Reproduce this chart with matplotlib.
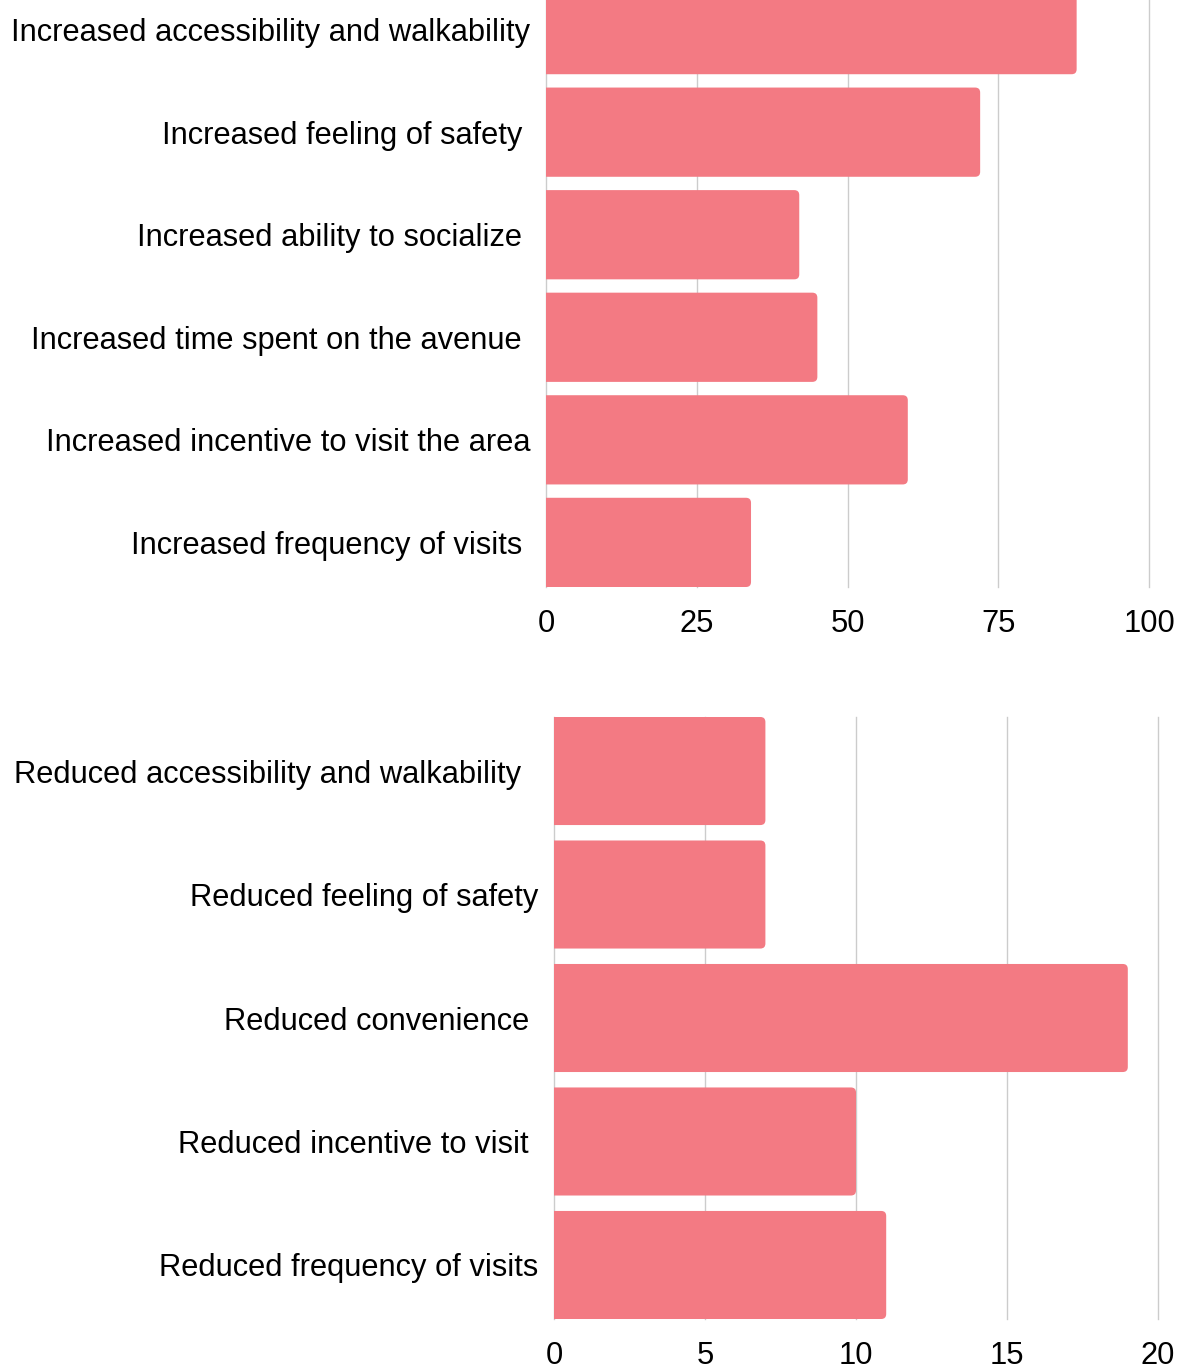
import matplotlib.pyplot as plt
from matplotlib.patches import FancyBboxPatch

plt.rcParams['font.family'] = ['Liberation Sans', 'DejaVu Sans']

# top chart: positive effects (listed top to bottom)
pos_labels = [
    "Increased accessibility and walkability",
    "Increased feeling of safety",
    "Increased ability to socialize",
    "Increased time spent on the avenue",
    "Increased incentive to visit the area",
    "Increased frequency of visits",
]
pos_values = [88, 72, 42, 45, 60, 34]
pos_ticks = [0, 25, 50, 75, 100]

# bottom chart: negative effects
neg_labels = [
    "Reduced accessibility and walkability",
    "Reduced feeling of safety",
    "Reduced convenience",
    "Reduced incentive to visit",
    "Reduced frequency of visits",
]
neg_values = [7, 7, 19, 10, 11]
neg_ticks = [0, 5, 10, 15, 20]

# label gaps in px, the original tool placed them a bit unevenly
pos_pads = [16, 24, 24, 24, 16, 24]
neg_pads = [33, 16, 25, 25, 16]

BAR = '#f37a83'
GRID = '#cccccc'
FS = 22.2
W, H = 1184, 1370

fig = plt.figure(figsize=(W / 100, H / 100), dpi=100)


def px_axes(left, top, right, bottom):
    return fig.add_axes([left / W, 1 - bottom / H, (right - left) / W, (bottom - top) / H])


def draw(ax, labels, values, ticks, pads, height):
    n = len(labels)
    ys = list(range(n))[::-1]
    ax.set_xlim(ticks[0], ticks[-1])
    ax.set_ylim(-height / 2, n - 1 + height / 2)
    ax.set_xticks(ticks)
    ax.set_yticks(ys)
    ax.set_yticklabels(labels)
    ax.tick_params(length=0, labelsize=FS)
    ax.tick_params(axis='x', pad=16)
    for tick, p in zip(ax.yaxis.get_major_ticks(), pads):
        tick.set_pad(p * 0.72)
    for s in ax.spines.values():
        s.set_visible(False)
    ax.grid(axis='x', color=GRID, lw=1)
    for gl in ax.get_xgridlines():
        gl.set_clip_on(False)
    ax.set_axisbelow(True)

    # rounded right corners (~5 px); the left end is pushed past x=0 and clipped
    fig.canvas.draw()
    x0, y0 = ax.transData.transform((0, 0))
    x1, y1 = ax.transData.transform((1, 1))
    pxx, pxy = x1 - x0, y1 - y0
    r = 5 / pxx
    for y, v in zip(ys, values):
        ax.add_patch(FancyBboxPatch((-3 * r, y - height / 2), v + 3 * r, height,
                                    boxstyle=f"round,pad=0,rounding_size={r}",
                                    mutation_aspect=pxx / pxy,
                                    fc=BAR, ec='none', lw=0, zorder=2))


ax1 = px_axes(546, -15, 1149, 587)
draw(ax1, pos_labels, pos_values, pos_ticks, pos_pads, 0.87)

ax2 = px_axes(554, 717, 1158, 1319)
draw(ax2, neg_labels, neg_values, neg_ticks, neg_pads, 0.875)

fig.savefig('out.png', dpi=100, facecolor='white')
